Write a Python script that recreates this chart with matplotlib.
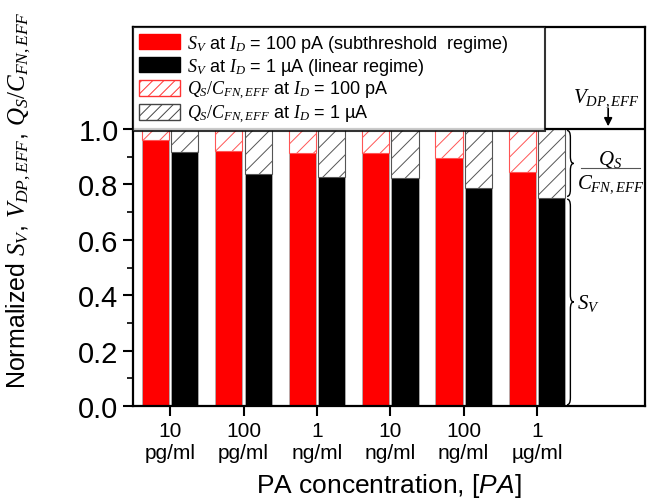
import numpy as np
import matplotlib
matplotlib.use("Agg")
import matplotlib.pyplot as plt
from matplotlib.path import Path
from matplotlib.patches import PathPatch, Patch
from matplotlib.ticker import FixedLocator

plt.rcParams['font.family'] = ['Liberation Sans', 'DejaVu Sans']
plt.rcParams['mathtext.fontset'] = 'custom'
plt.rcParams['mathtext.rm'] = 'Liberation Serif'
plt.rcParams['mathtext.it'] = 'Liberation Serif:italic'
plt.rcParams['mathtext.bf'] = 'Liberation Serif:bold'
plt.rcParams['mathtext.sf'] = 'Liberation Sans:italic'
plt.rcParams['hatch.linewidth'] = 0.7

# data
concentrations = ["10\npg/ml", "100\npg/ml", "1\nng/ml", "10\nng/ml", "100\nng/ml", "1\n\u00b5g/ml"]
sv_100pA = [0.962, 0.922, 0.915, 0.915, 0.895, 0.846]
sv_1uA = [0.916, 0.838, 0.828, 0.822, 0.787, 0.752]
vdp_eff = 1.0

x = np.arange(1, len(concentrations) + 1)
w = 0.37

fig = plt.figure(figsize=(6.56, 5.02), dpi=100)
ax = fig.add_axes([0.203, 0.189, 0.78, 0.755])

sv_a = np.array(sv_100pA)
sv_b = np.array(sv_1uA)

ax.bar(x - 0.2, sv_a, w, color='#ff0000', edgecolor='#b0b0b0', linewidth=0.6, zorder=2)
ax.bar(x + 0.2, sv_b, w, color='#000000', edgecolor='#b0b0b0', linewidth=0.6, zorder=2)
ax.bar(x - 0.2, vdp_eff - sv_a, w, bottom=sv_a, color='white', edgecolor='#ff5555',
       hatch='//', linewidth=0.8, zorder=2)
ax.bar(x + 0.2, vdp_eff - sv_b, w, bottom=sv_b, color='white', edgecolor='#555555',
       hatch='//', linewidth=0.8, zorder=2)

ax.axhline(vdp_eff, color='black', lw=1.6, zorder=3)

ax.set_xlim(0.496, 7.47)
ax.set_ylim(0, 1.368)
ax.set_xticks(x)
ax.set_xticklabels(concentrations, fontsize=15)
ax.yaxis.set_major_locator(FixedLocator([0, 0.2, 0.4, 0.6, 0.8, 1.0]))
ax.yaxis.set_minor_locator(FixedLocator([0.1, 0.3, 0.5, 0.7, 0.9]))
ax.set_yticklabels(["0.0", "0.2", "0.4", "0.6", "0.8", "1.0"], fontsize=21)
ax.tick_params(axis='both', which='major', direction='out', length=7, width=1.5)
ax.tick_params(axis='y', which='minor', direction='out', length=4, width=1.2)
ax.tick_params(axis='x', pad=4)
for s in ax.spines.values():
    s.set_linewidth(1.6)

ax.set_xlabel(r'PA concentration, [$\mathsf{PA}$]', fontsize=19, labelpad=6)
ax.set_ylabel(r'Normalized $S_V$, $V_{DP,EFF}$, $Q_S/C_{FN,EFF}$', fontsize=18)
ax.yaxis.set_label_coords(-0.195, 0.545)


def brace(ax, x0, x1, ytop, ybot, ymid, r):
    xm = (x0 + x1) / 2
    verts = [(x0, ytop), (xm, ytop), (xm, ytop - r),
             (xm, ymid + r),
             (xm, ymid), (x1, ymid),
             (xm, ymid), (xm, ymid - r),
             (xm, ybot + r),
             (xm, ybot), (x0, ybot)]
    codes = [Path.MOVETO, Path.CURVE3, Path.CURVE3,
             Path.LINETO,
             Path.CURVE3, Path.CURVE3,
             Path.CURVE3, Path.CURVE3,
             Path.LINETO,
             Path.CURVE3, Path.CURVE3]
    ax.add_patch(PathPatch(Path(verts, codes), fill=False, lw=1.0, color='black', zorder=4))


brace(ax, 6.41, 6.50, 0.995, sv_b[-1] + 0.005, (1 + sv_b[-1]) / 2, 0.025)
brace(ax, 6.41, 6.50, sv_b[-1] - 0.005, 0.005, sv_b[-1] / 2, 0.025)

ax.text(7.0, 0.895, r'$Q_S$', fontsize=15, ha='center', va='center')
ax.plot([6.6, 7.4], [0.86, 0.86], color='#555555', lw=0.8)
ax.text(7.0, 0.805, r'$C_{FN,EFF}$', fontsize=15, ha='center', va='center')
ax.text(6.55, 0.375, r'$S_V$', fontsize=15, ha='left', va='center')

ax.text(6.95, 1.115, r'$V_{DP,EFF}$', fontsize=15, ha='center', va='center')
ax.annotate('', xy=(6.97, 1.0), xytext=(6.97, 1.085),
            arrowprops=dict(arrowstyle='-|>', color='black', lw=1.2, mutation_scale=12))

handles = [
    Patch(facecolor='#ff0000', edgecolor='#ff0000'),
    Patch(facecolor='#000000', edgecolor='#000000'),
    Patch(facecolor='white', edgecolor='#ff3333', hatch='///'),
    Patch(facecolor='white', edgecolor='#444444', hatch='///'),
]
labels = [
    r'$S_V$ at $I_D$ = 100 pA (subthreshold  regime)',
    r'$S_V$ at $I_D$ = 1 ' + '\u00b5A (linear regime)',
    r'$Q_S/C_{FN,EFF}$ at $I_D$ = 100 pA',
    r'$Q_S/C_{FN,EFF}$ at $I_D$ = 1 ' + '\u00b5A',
]
leg = ax.legend(handles, labels, loc='upper left', bbox_to_anchor=(0, 0, 0.805, 1),
                mode='expand', borderaxespad=0,
                fontsize=13, frameon=True, fancybox=False, edgecolor='black',
                handlelength=2.3, handleheight=0.95, labelspacing=0.12, handletextpad=0.4,
                borderpad=0.3)
leg.get_frame().set_linewidth(1.5)
leg.set_zorder(5)

fig.savefig('out.png', dpi=100)
